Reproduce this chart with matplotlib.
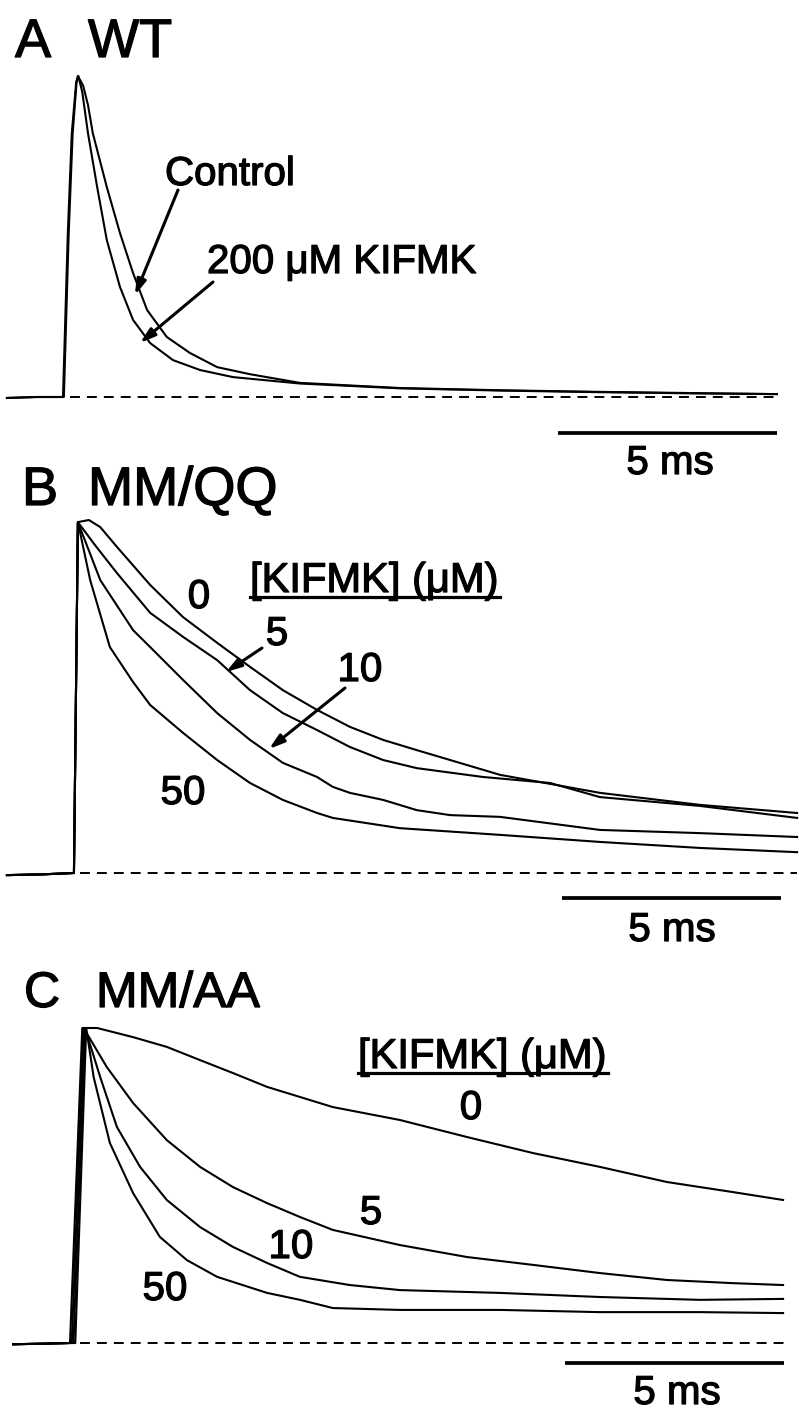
import matplotlib
matplotlib.use("Agg")
import matplotlib.pyplot as plt
import matplotlib.patheffects as pe
from matplotlib.lines import Line2D

plt.rcParams['font.family'] = ['Liberation Sans', 'DejaVu Sans']

# ---- data: time in ms from onset of panel A, amplitude normalised to peak ----
# panel A, WT
a_pre_t = [-1.28, -0.60, 0.0]
a_pre_a = [-0.003, 0.0, 0.0]
a_ctrl_t = [0.0, 0.11, 0.20, 0.30, 0.34, 0.46, 0.57, 0.68, 1.00, 1.30, 1.60, 1.92, 2.37,
            2.90, 3.52, 4.27, 5.41, 7.69, 10.0, 12.26, 14.54, 16.3]
a_ctrl_a = [0.0, 0.51, 0.82, 0.98, 1.0, 0.97, 0.91, 0.822, 0.654, 0.511, 0.386, 0.271, 0.187,
            0.137, 0.093, 0.071, 0.044, 0.028, 0.021, 0.016, 0.012, 0.009]
a_kif_t = [0.02, 0.13, 0.22, 0.31, 0.35, 0.44, 0.57, 0.78, 1.00, 1.30, 1.60, 1.99, 2.51,
           3.13, 3.88, 5.41, 7.69, 10.0, 12.26, 14.54, 16.3]
a_kif_a = [0.0, 0.51, 0.82, 0.98, 1.0, 0.95, 0.822, 0.654, 0.489, 0.343, 0.240, 0.168, 0.115,
           0.084, 0.062, 0.042, 0.027, 0.020, 0.015, 0.011, 0.009]

# panel B, MM/QQ  ([KIFMK] 0, 5, 10, 50 uM)
b_pre_t = [-1.28, -0.50, 0.25]
b_pre_a = [-0.006, -0.004, 0.0]
b0_t = [0.25, 0.34, 0.59, 0.85, 1.23, 1.99, 2.74, 3.52, 4.27, 5.02, 5.80, 6.55, 7.31, 8.08,
        9.98, 12.26, 14.54, 16.76]
b0_a = [0.0, 0.994, 1.0, 0.98, 0.924, 0.816, 0.725, 0.652, 0.584, 0.518, 0.462, 0.414, 0.377,
        0.348, 0.278, 0.227, 0.193, 0.170]
b5_t = [0.25, 0.34, 0.73, 1.23, 1.99, 2.74, 3.52, 4.27, 5.02, 5.80, 6.55, 7.31, 8.08, 9.59,
        11.12, 12.26, 14.54, 16.76]
b5_a = [0.0, 0.994, 0.929, 0.850, 0.737, 0.669, 0.603, 0.518, 0.453, 0.405, 0.357, 0.320,
        0.297, 0.272, 0.255, 0.215, 0.190, 0.156]
b10_t = [0.25, 0.34, 0.85, 1.60, 1.99, 2.74, 3.52, 4.27, 5.02, 5.80, 6.16, 6.55, 7.31, 8.08,
         8.84, 9.98, 12.26, 14.54, 16.76]
b10_a = [0.0, 0.994, 0.830, 0.688, 0.640, 0.547, 0.453, 0.377, 0.312, 0.272, 0.244, 0.227,
         0.207, 0.178, 0.164, 0.159, 0.122, 0.113, 0.102]
b50_t = [0.25, 0.34, 0.62, 1.07, 1.60, 1.99, 2.74, 3.52, 4.27, 5.02, 5.80, 6.16, 7.69, 9.98,
         12.26, 14.54, 16.76]
b50_a = [0.0, 0.994, 0.830, 0.640, 0.541, 0.476, 0.397, 0.320, 0.255, 0.207, 0.170, 0.156,
         0.127, 0.108, 0.088, 0.071, 0.059]

# panel C, MM/AA
c_pre_t = [-1.14, -0.40, 0.16]
c_pre_a = [-0.004, -0.002, 0.0]
c0_t = [0.16, 0.44, 0.78, 1.60, 2.37, 3.13, 3.88, 4.66, 5.41, 6.16, 7.69, 9.22, 10.73, 12.26,
        13.79, 15.30, 16.44]
c0_a = [0.0, 1.0, 1.0, 0.971, 0.940, 0.898, 0.857, 0.813, 0.781, 0.749, 0.708, 0.654, 0.603,
        0.559, 0.511, 0.479, 0.454]
c5_t = [0.20, 0.47, 1.00, 1.60, 2.37, 3.13, 3.88, 4.66, 5.41, 6.16, 7.69, 9.22, 10.73, 12.26,
        13.79, 15.30, 16.44]
c5_a = [0.0, 1.0, 0.876, 0.762, 0.644, 0.559, 0.495, 0.444, 0.400, 0.359, 0.311, 0.273, 0.248,
        0.222, 0.200, 0.190, 0.184]
c10_t = [0.24, 0.50, 0.85, 1.23, 1.76, 2.37, 3.13, 3.88, 4.66, 5.41, 6.55, 7.69, 9.98, 12.26,
         14.54, 16.44]
c10_a = [0.0, 1.0, 0.844, 0.686, 0.559, 0.454, 0.368, 0.305, 0.254, 0.210, 0.184, 0.168, 0.159,
         0.146, 0.137, 0.140]
c50_t = [0.28, 0.53, 0.70, 1.07, 1.60, 2.21, 2.83, 3.52, 4.66, 5.41, 6.16, 7.69, 9.98, 12.26,
         14.54, 16.44]
c50_a = [0.0, 1.0, 0.844, 0.635, 0.476, 0.337, 0.263, 0.210, 0.159, 0.137, 0.111, 0.105, 0.105,
         0.098, 0.098, 0.095]

scale_ms = 5
# dashed zero line extents (ms) and scale bar start (ms), level (amp)
a_zero = [0.16, 16.37]
b_zero = [0.39, 16.76]
c_zero = [0.39, 16.60]
a_bar = (11.30, -0.112)
b_bar = (11.39, -0.071)
c_bar = (11.46, -0.063)

# ---- layout (pixels) ----
W, H = 799, 1410
PX_MS = 43.8
T0 = 63
BOLDISH = [pe.withStroke(linewidth=0.9, foreground='black')]


def fxy(x, y):
    return x / W, 1 - y / H


fig = plt.figure(figsize=(W / 100, H / 100), dpi=100)


def panel(top, bot, base, peak):
    amp = base - peak
    ax = fig.add_axes([0, 1 - bot / H, 1, (bot - top) / H])
    ax.set_xlim(-T0 / PX_MS, (W - T0) / PX_MS)
    ax.set_ylim((base - bot) / amp, (base - top) / amp)
    ax.axis('off')
    return ax


def traces(ax, pre_t, pre_a, series, zero, bar, lw=1.5):
    for t, a in series:
        ax.plot(pre_t + t, pre_a + a, color='black', lw=lw, solid_joinstyle='round')
    ax.plot(zero, [0, 0], color='black', lw=1.4, linestyle=(0, (5.1, 3.6)))
    ax.plot([bar[0], bar[0] + scale_ms], [bar[1], bar[1]], color='black', lw=2.7,
            solid_capstyle='butt')


axA = panel(60, 450, 397, 76)
traces(axA, a_pre_t, a_pre_a, [(a_ctrl_t, a_ctrl_a), (a_kif_t, a_kif_a)], a_zero, a_bar)
axB = panel(505, 915, 873, 520)
traces(axB, b_pre_t, b_pre_a,
       [(b0_t, b0_a), (b5_t, b5_a), (b10_t, b10_a), (b50_t, b50_a)], b_zero, b_bar)
axC = panel(1010, 1380, 1343, 1028)
traces(axC, c_pre_t, c_pre_a,
       [(c0_t, c0_a), (c5_t, c5_a), (c10_t, c10_a), (c50_t, c50_a)], c_zero, c_bar)


def txt(x, y, s, size=29, ha='center', va='center'):
    fig.text(*fxy(x, y), s, fontsize=size, ha=ha, va=va, path_effects=BOLDISH)


def arrow(x0, y0, x1, y1):
    axA.annotate('', xy=fxy(x1, y1), xytext=fxy(x0, y0),
                 xycoords='figure fraction', textcoords='figure fraction',
                 arrowprops=dict(arrowstyle='-|>,head_length=0.9,head_width=0.28',
                                 color='black', lw=2.2, shrinkA=0, shrinkB=0),
                 annotation_clip=False)


def underline(x0, x1, y):
    fig.add_artist(Line2D([x0 / W, x1 / W], [1 - y / H, 1 - y / H], color='black', lw=2.3,
                          transform=fig.transFigure))


# headers
txt(15, 57, 'A', 39, 'left', 'baseline')
txt(88, 57, 'WT', 39, 'left', 'baseline')
txt(22, 505, 'B', 39, 'left', 'baseline')
txt(88, 505, 'MM/QQ', 39, 'left', 'baseline')
txt(24, 1007, 'C', 36, 'left', 'baseline')
txt(96, 1007, 'MM/AA', 36, 'left', 'baseline')

# panel A labels
txt(165, 185, 'Control', 29, 'left', 'baseline')
txt(207, 273, '200 \u03bcM KIFMK', 29, 'left', 'baseline')
arrow(178, 190, 135, 295)
arrow(213, 282, 140, 343)
txt(670, 463, '5 ms')

# panel B labels
txt(250, 592, '[KIFMK] (\u03bcM)', 30, 'left', 'baseline')
underline(250, 500, 597)
txt(199, 597, '0')
txt(277, 634, '5')
txt(360, 670, '10')
txt(183, 793, '50')
arrow(262, 648, 226, 672)
arrow(345, 688, 269, 749)
txt(672, 930, '5 ms')

# panel C labels
txt(358, 1068, '[KIFMK] (\u03bcM)', 30, 'left', 'baseline')
underline(358, 608, 1073)
txt(471, 1108, '0')
txt(371, 1213, '5')
txt(291, 1247, '10')
txt(165, 1289, '50')
txt(677, 1393, '5 ms')

fig.savefig('out.png', dpi=100)
